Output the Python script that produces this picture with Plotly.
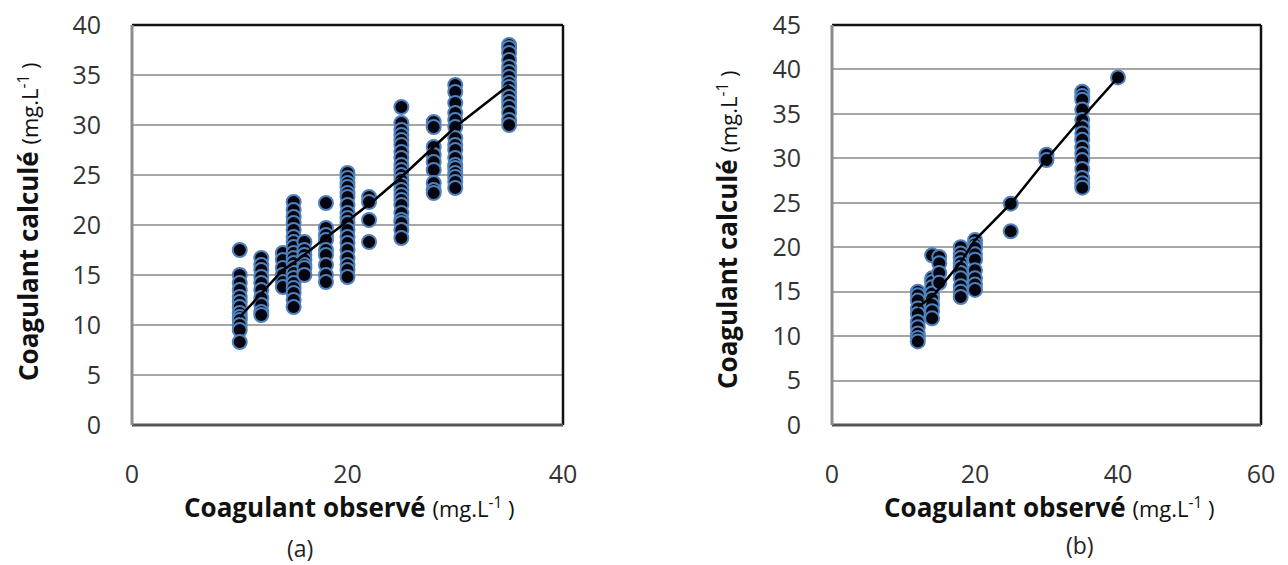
import plotly.graph_objects as go

# ---------------- data: panel (a) ----------------
obs_a = [10, 12, 14, 15, 16, 18, 20, 22, 25, 28, 30, 35]
calc_a_10 = [17.5, 15.0, 14.2, 13.5, 12.8, 12.3, 11.8, 11.2, 10.8, 10.5, 10.0, 9.5, 8.3]
calc_a_12 = [16.7, 16.0, 15.5, 14.8, 14.2, 13.5, 12.7, 12.0, 11.3, 11.0]
calc_a_14 = [17.2, 16.5, 15.7, 15.0, 14.3, 13.8]
calc_a_15 = [22.3, 21.5, 20.8, 20.2, 19.5, 18.8, 18.3, 17.8, 17.2, 16.7, 16.2, 15.7,
             15.2, 14.7, 14.2, 13.7, 13.2, 12.5, 11.8]
calc_a_16 = [18.3, 17.5, 17.0, 16.5, 16.0, 15.7, 15.0]
calc_a_18 = [22.2, 19.7, 19.0, 18.5, 17.5, 17.0, 16.0, 15.0, 14.3]
calc_a_20 = [25.2, 24.7, 24.2, 23.8, 23.2, 22.8, 22.0, 21.2, 20.7, 20.2, 19.5, 18.8,
             18.2, 17.5, 16.7, 16.0, 15.5, 14.8]
calc_a_22 = [22.8, 22.3, 20.5, 18.3]
calc_a_25 = [31.8, 30.2, 29.5, 29.0, 28.5, 28.0, 27.3, 26.7, 26.0, 25.5, 25.0, 24.5,
             24.0, 23.5, 23.0, 22.5, 22.0, 21.2, 20.5, 20.2, 19.5, 18.7]
calc_a_28 = [30.3, 29.8, 27.8, 27.0, 26.3, 25.5, 24.2, 23.5, 23.2]
calc_a_30 = [34.0, 33.3, 32.2, 31.2, 30.5, 29.8, 28.7, 28.0, 27.5, 26.7, 26.0, 25.7,
             25.2, 24.8, 24.3, 23.7]
calc_a_35 = [38.0, 37.7, 37.2, 36.5, 35.8, 35.3, 34.8, 34.2, 33.8, 33.3, 32.8, 32.3,
             31.8, 31.2, 30.5, 30.0]
calc_a = [calc_a_10, calc_a_12, calc_a_14, calc_a_15, calc_a_16, calc_a_18,
          calc_a_20, calc_a_22, calc_a_25, calc_a_28, calc_a_30, calc_a_35]
line_a_x = [10, 14, 15, 22.5, 25, 30, 35]
line_a_y = [10.8, 15.5, 16.2, 22.5, 24.8, 29.8, 34.0]

# ---------------- data: panel (b) ----------------
obs_b = [12, 14, 15, 18, 20, 25, 30, 35, 40]
calc_b_12 = [15.0, 14.6, 14.0, 13.1, 12.5, 11.6, 11.0, 10.3, 9.8, 9.4]
calc_b_14 = [19.1, 16.5, 16.1, 15.5, 14.8, 14.2, 13.5, 12.8, 12.0]
calc_b_15 = [18.9, 18.2, 17.1, 16.0]
calc_b_18 = [20.0, 19.3, 18.8, 18.2, 17.7, 17.1, 16.5, 15.6, 15.0, 14.4]
calc_b_20 = [20.8, 20.3, 19.9, 19.2, 18.6, 17.4, 16.5, 15.8, 15.2]
calc_b_25 = [24.9, 21.8]
calc_b_30 = [30.4, 29.8]
calc_b_35 = [37.5, 37.0, 36.6, 35.5, 34.3, 33.5, 32.8, 32.1, 31.2, 30.5, 29.8, 28.8,
             27.8, 27.2, 26.7]
calc_b_40 = [39.1]
calc_b = [calc_b_12, calc_b_14, calc_b_15, calc_b_18, calc_b_20, calc_b_25,
          calc_b_30, calc_b_35, calc_b_40]
line_b_x = [12, 14, 18, 20, 25, 30, 35, 40]
line_b_y = [13.3, 14.4, 18.3, 20.8, 24.9, 29.9, 34.6, 39.1]

xticks_a = [0, 20, 40]
yticks_a = [0, 5, 10, 15, 20, 25, 30, 35, 40]
xticks_b = [0, 20, 40, 60]
yticks_b = [0, 5, 10, 15, 20, 25, 30, 35, 40, 45]


def flatten(obs, calc):
    xs, ys = [], []
    for o, col in zip(obs, calc):
        for v in col:
            xs.append(o)
            ys.append(v)
    return xs, ys


W, H = 1288, 565
xa, ya = flatten(obs_a, calc_a)
xb, yb = flatten(obs_b, calc_b)

marker = dict(size=14, color="#050510", line=dict(color="#4F81BD", width=2))

fig = go.Figure()
fig.add_trace(go.Scatter(x=xa, y=ya, mode="markers", marker=marker,
                         xaxis="x", yaxis="y", showlegend=False))
fig.add_trace(go.Scatter(x=line_a_x, y=line_a_y, mode="lines",
                         line=dict(color="black", width=2.5),
                         xaxis="x", yaxis="y", showlegend=False))
fig.add_trace(go.Scatter(x=xb, y=yb, mode="markers", marker=marker,
                         xaxis="x2", yaxis="y2", showlegend=False))
fig.add_trace(go.Scatter(x=line_b_x, y=line_b_y, mode="lines",
                         line=dict(color="black", width=2.5),
                         xaxis="x2", yaxis="y2", showlegend=False))

ydom = [1 - 425 / H, 1 - 25 / H]
tickfont = dict(family="Open Sans", size=25, color="#333333")
common_x = dict(showgrid=False, zeroline=False, showline=False, ticks="",
                tickfont=tickfont, ticklabelstandoff=32, fixedrange=True,
                automargin=False)
common_y = dict(showgrid=True, gridcolor="#A6A6A6", gridwidth=2, zeroline=False,
                showline=False, ticks="", tickfont=tickfont,
                ticklabelstandoff=30, fixedrange=True, automargin=False)

fig.update_layout(
    width=W, height=H,
    margin=dict(l=0, r=0, t=0, b=0),
    paper_bgcolor="white", plot_bgcolor="white",
    xaxis=dict(domain=[132 / W, 563 / W], range=[0, 40], tickvals=xticks_a,
               anchor="y", **common_x),
    yaxis=dict(domain=ydom, range=[0, 40], tickvals=yticks_a, anchor="x", **common_y),
    xaxis2=dict(domain=[832 / W, 1261 / W], range=[0, 60], tickvals=xticks_b,
                anchor="y2", **common_x),
    yaxis2=dict(domain=ydom, range=[0, 45], tickvals=yticks_b, anchor="x2", **common_y),
)

# plot-area frames
shapes = []
for xr, yr in [("x", "y"), ("x2", "y2")]:
    xd, yd = xr + " domain", yr + " domain"
    shapes.append(dict(type="line", xref=xd, yref=yd, x0=0, x1=1, y0=1, y1=1,
                       line=dict(color="#111111", width=2.5)))
    shapes.append(dict(type="line", xref=xd, yref=yd, x0=1, x1=1, y0=0, y1=1,
                       line=dict(color="#111111", width=2.5)))
    shapes.append(dict(type="line", xref=xd, yref=yd, x0=0, x1=1, y0=0, y1=0,
                       line=dict(color="#555555", width=3)))
    shapes.append(dict(type="line", xref=xd, yref=yd, x0=0, x1=0, y0=0, y1=1,
                       line=dict(color="#8C8C8C", width=3)))
fig.update_layout(shapes=shapes)

unit = "<span style='font-size:22px;font-weight:normal'>(mg.L<sup>-1</sup> )</span>"
tfont = dict(family="Open Sans", size=26, color="#111111")
ann = [
    dict(text="<b>Coagulant observé</b> " + unit, x=349 / W, y=1 - 507 / H,
         xref="paper", yref="paper", showarrow=False, font=tfont,
         xanchor="center", yanchor="middle"),
    dict(text="<b>Coagulant observé</b> " + unit, x=1049 / W, y=1 - 507 / H,
         xref="paper", yref="paper", showarrow=False, font=tfont,
         xanchor="center", yanchor="middle"),
    dict(text="<b>Coagulant calculé</b> " + unit, x=28 / W, y=1 - 222 / H,
         xref="paper", yref="paper", showarrow=False, font=tfont, textangle=-90,
         xanchor="center", yanchor="middle"),
    dict(text="<b>Coagulant calculé</b> " + unit, x=727 / W, y=1 - 230 / H,
         xref="paper", yref="paper", showarrow=False, font=tfont, textangle=-90,
         xanchor="center", yanchor="middle"),
    dict(text="(a)", x=300 / W, y=1 - 548 / H, xref="paper", yref="paper",
         showarrow=False, font=dict(family="Open Sans", size=23, color="#222222"),
         xanchor="center", yanchor="middle"),
    dict(text="(b)", x=1080 / W, y=1 - 545 / H, xref="paper", yref="paper",
         showarrow=False, font=dict(family="Open Sans", size=23, color="#222222"),
         xanchor="center", yanchor="middle"),
]
fig.update_layout(annotations=ann)

fig.write_html("out.html", config={"displayModeBar": False},
               post_script="document.body.style.margin='0px';"
                           "document.body.style.padding='0px';")
